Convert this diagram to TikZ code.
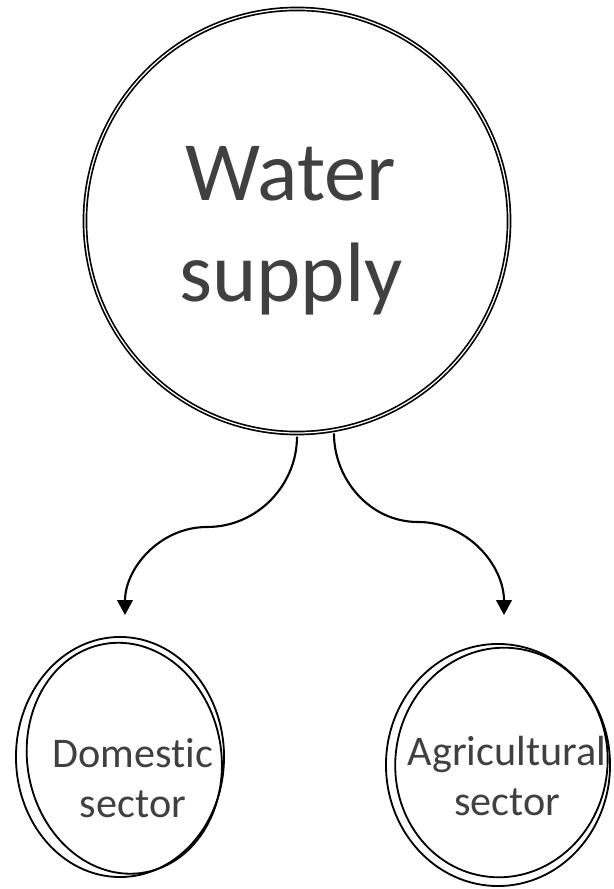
\documentclass[tikz,border=0pt]{standalone}
\usepackage{fontspec}
\setmainfont{Carlito}[Ligatures=NoCommon]
\usepackage{xcolor}
\usepackage{tikz}
\usetikzlibrary{arrows.meta,shapes.geometric}
\definecolor{labelgrey}{HTML}{404040}

\begin{document}
\begin{tikzpicture}[x=0.025cm, y=0.025cm,
    ring/.style={draw, line width=1.3pt, inner sep=0pt},
    sketch/.style={draw, line width=1.3pt},
    ringtext/.style={text=labelgrey, align=center, inner sep=0pt},
    flow/.style={line width=1.5pt, shorten <=2pt, -{Triangle[width=11pt,length=10.5pt]}}]

  \useasboundingbox (0,0) rectangle (613,889);

  % top circle
  \node[ring, circle, double, double distance=0.9pt, line width=1.2pt, minimum size=10.6cm] (water) at (297,668) {};
  \node[ringtext, font=\fontsize{60}{72}\selectfont] (watertext) at (291,658) {Water\\supply};

  % the two sectors, each with a second loose stroke
  \node[ring, ellipse, minimum width=5.2cm, minimum height=6cm] (domestic) at (120,132) {};
  \draw[sketch, rotate around={10:(domestic.center)}] ([shift={(4,-2)}]domestic.center) ellipse [x radius=97, y radius=116];
  \node[ringtext, font=\fontsize{30}{35.5}\selectfont] (domestictext) at (133,111) {Domestic\\sector};

  \node[ring, ellipse, minimum width=5.6cm, minimum height=6.05cm] (agri) at (498,124) {};
  \draw[sketch, rotate around={-9:(agri.center)}] ([shift={(3,3)}]agri.center) ellipse [x radius=106, y radius=115];
  \node[ringtext, font=\fontsize{30}{35.5}\selectfont] (agritext) at (507,113) {Agricultural\\sector};

  % connectors
  \coordinate (lbend) at (207,362);
  \coordinate (ltip) at (125,274);
  \coordinate (rbend) at (418,367);
  \coordinate (rtip) at (504,274);
  \draw[flow] (water.south) to[out=-90,in=0] (lbend) to[out=180,in=90] (ltip);
  \draw[flow] (water.-80) to[out=-90,in=180] (rbend) to[out=0,in=90] (rtip);
\end{tikzpicture}
\end{document}
